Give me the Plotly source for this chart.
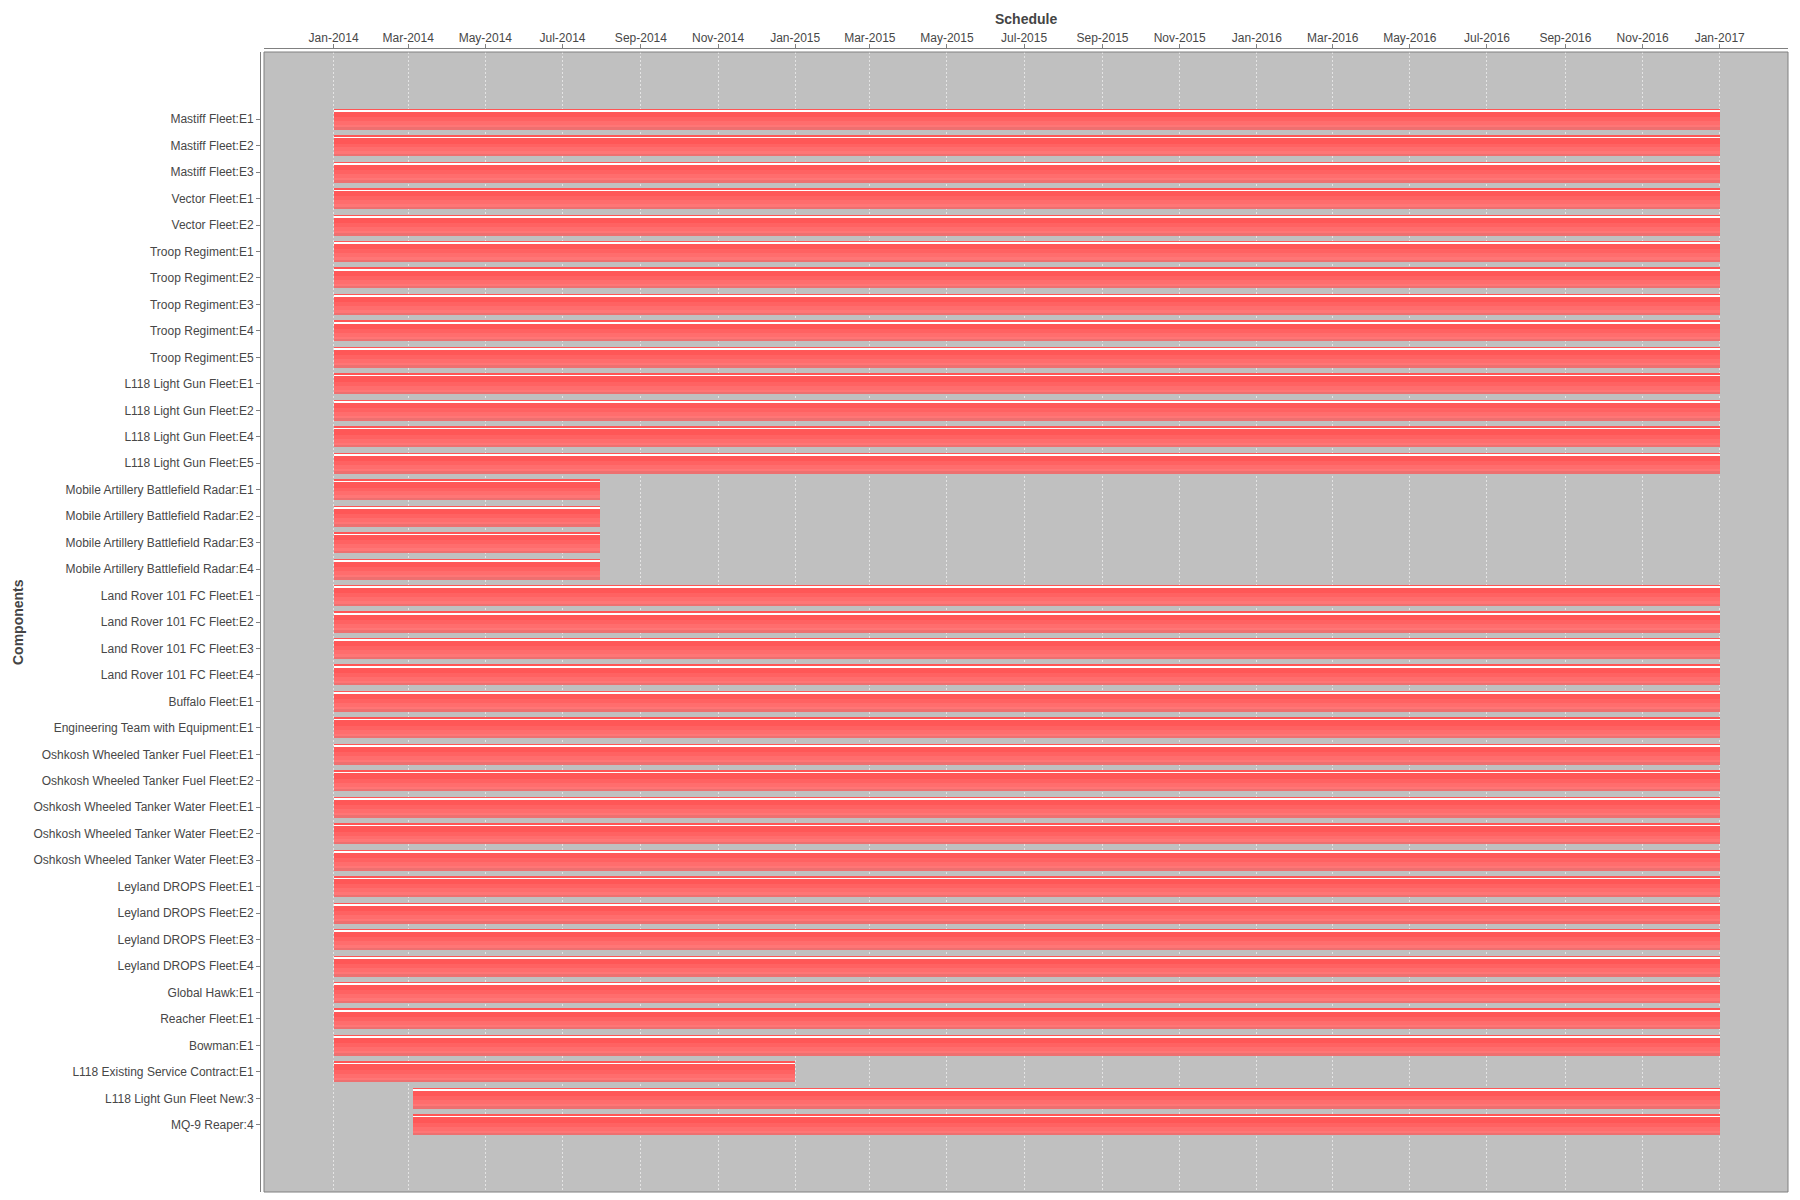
import plotly.graph_objects as go
import pandas as pd

components = [
    "Mastiff Fleet:E1", "Mastiff Fleet:E2", "Mastiff Fleet:E3",
    "Vector Fleet:E1", "Vector Fleet:E2",
    "Troop Regiment:E1", "Troop Regiment:E2", "Troop Regiment:E3",
    "Troop Regiment:E4", "Troop Regiment:E5",
    "L118 Light Gun Fleet:E1", "L118 Light Gun Fleet:E2",
    "L118 Light Gun Fleet:E4", "L118 Light Gun Fleet:E5",
    "Mobile Artillery Battlefield Radar:E1", "Mobile Artillery Battlefield Radar:E2",
    "Mobile Artillery Battlefield Radar:E3", "Mobile Artillery Battlefield Radar:E4",
    "Land Rover 101 FC Fleet:E1", "Land Rover 101 FC Fleet:E2",
    "Land Rover 101 FC Fleet:E3", "Land Rover 101 FC Fleet:E4",
    "Buffalo Fleet:E1", "Engineering Team with Equipment:E1",
    "Oshkosh Wheeled Tanker Fuel Fleet:E1", "Oshkosh Wheeled Tanker Fuel Fleet:E2",
    "Oshkosh Wheeled Tanker Water Fleet:E1", "Oshkosh Wheeled Tanker Water Fleet:E2",
    "Oshkosh Wheeled Tanker Water Fleet:E3",
    "Leyland DROPS Fleet:E1", "Leyland DROPS Fleet:E2",
    "Leyland DROPS Fleet:E3", "Leyland DROPS Fleet:E4",
    "Global Hawk:E1", "Reacher Fleet:E1", "Bowman:E1",
    "L118 Existing Service Contract:E1", "L118 Light Gun Fleet New:3", "MQ-9 Reaper:4",
]

starts = (["2014-01-01"] * 37) + ["2014-03-05", "2014-03-05"]

ends = (
    ["2017-01-01"] * 14
    + ["2014-07-31"] * 4
    + ["2017-01-01"] * 18
    + ["2015-01-01"]
    + ["2017-01-01", "2017-01-01"]
)

tick_start = "2014-01-01"
axis_range = ["2013-11-07", "2017-02-24"]

s = pd.to_datetime(pd.Series(starts))
e = pd.to_datetime(pd.Series(ends))
dur_ms = ((e - s).dt.total_seconds() * 1000).tolist()

# bar layers (offset, width, colour) emulate JFreeChart gradient bar painter
layers = [
    (-0.397, 0.794, "#FF5555"),
    (-0.325, 0.045, "#FFFFFF"),
    (-0.280, 0.198, "#FF5757"),
    (-0.082, 0.150, "#FF6262"),
    (0.068, 0.150, "#FF6D6D"),
    (0.218, 0.105, "#FF7676"),
    (0.323, 0.074, "#EE7070"),
]

fig = go.Figure()
for off, w, col in layers:
    fig.add_trace(go.Bar(
        orientation="h", y=components, x=dur_ms, base=starts,
        offset=off, width=w, marker=dict(color=col, line=dict(width=0)),
        hoverinfo="skip", showlegend=False,
    ))

W, H = 1800, 1200
ml, mr, mt, mb = 260, 12, 48, 8
pw = W - ml - mr
ph = H - mt - mb

font_tick = dict(family="Liberation Sans, Arial, sans-serif", size=12, color="#474747")

fig.update_layout(
    width=W, height=H,
    margin=dict(l=ml, r=mr, t=mt, b=mb, pad=0),
    paper_bgcolor="white", plot_bgcolor="#C0C0C0",
    barmode="overlay",
    bargap=0,
    xaxis=dict(
        type="date", side="top", range=axis_range, autorange=False,
        domain=[4 / pw, 1], anchor="free", position=1,
        tick0=tick_start, dtick="M2", tickformat="%b-%Y",
        showgrid=True, gridcolor="#E4E4E4", griddash="2px,2px", gridwidth=1,
        showline=True, linecolor="#808080", linewidth=1,
        ticks="outside", ticklen=4, tickcolor="#808080",
        tickfont=font_tick, zeroline=False, ticklabelstandoff=-3,
    ),
    yaxis=dict(
        type="category", categoryorder="array", categoryarray=components,
        range=[38 + 2.54, -2.54], autorange=False,
        domain=[0, (ph - 4) / ph], anchor="free", position=0,
        showgrid=False, showline=True, linecolor="#808080", linewidth=1,
        ticks="outside", ticklen=4, tickcolor="#808080",
        tickfont=font_tick, zeroline=False,
    ),
    shapes=[dict(type="rect", xref="x domain", yref="y domain",
                 x0=0, x1=1, y0=0, y1=1, line=dict(color="#808080", width=1),
                 fillcolor="rgba(0,0,0,0)", layer="above")],
    annotations=[
        dict(text="<b>Schedule</b>", xref="paper", yref="paper",
             x=(4 / pw + 1) / 2, y=1 + (mt - 19) / ph, xanchor="center", yanchor="middle",
             showarrow=False, font=dict(family="Liberation Sans, Arial, sans-serif", size=14, color="#444444")),
        dict(text="<b>Components</b>", xref="paper", yref="paper",
             x=(18 - ml) / pw, y=(ph - 4) / ph / 2, xanchor="center", yanchor="middle",
             textangle=-90, showarrow=False,
             font=dict(family="Liberation Sans, Arial, sans-serif", size=14, color="#444444")),
    ],
)

fig.write_html("out.html")
